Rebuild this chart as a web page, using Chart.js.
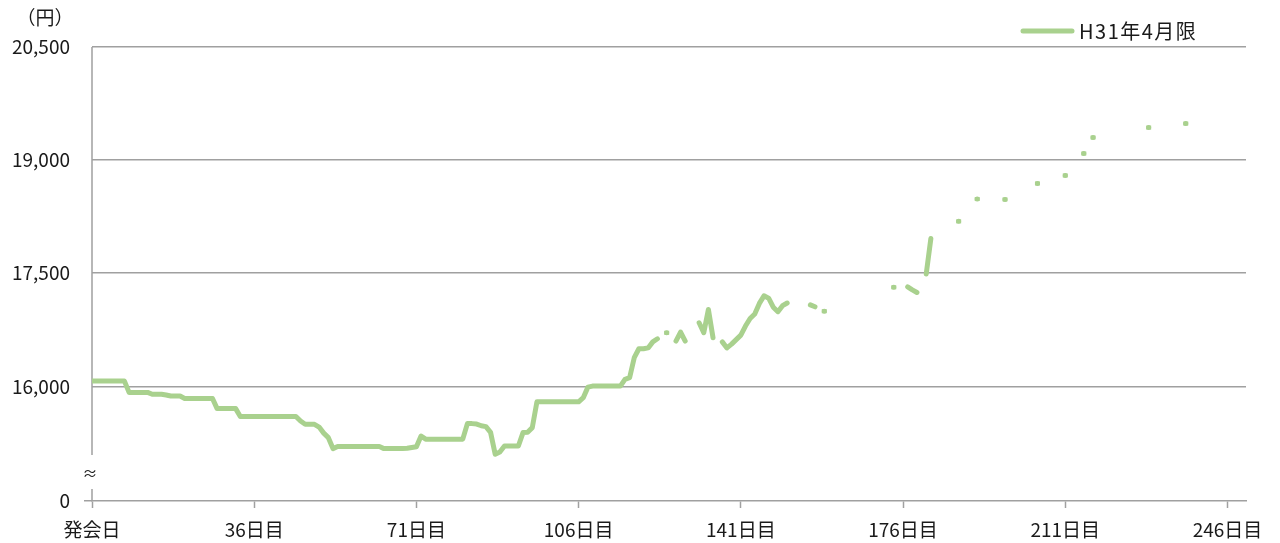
<!DOCTYPE html>
<html lang="ja">
<head>
<meta charset="utf-8">
<title>H31年4月限</title>
<script src="https://cdn.jsdelivr.net/npm/chart.js@4.4.0/dist/chart.umd.min.js"></script>
<style>
	html, body { margin: 0; padding: 0; background: #fff; }
	#wrap { width: 1280px; height: 543px; }
</style>
</head>
<body>
<div id="wrap"><canvas id="myChart" width="1280" height="543"></canvas></div>
<script>
// 系列名・単位
const seriesName = 'H31年4月限';
const unitLabel = '（円）';

// 日ごとの価格（円）、値のない日は null
const prices = [
	16070, 16070, 16070, 16070, 16070, 16070, 16070, 16070, 15920, 15920,
	15920, 15920, 15920, 15895, 15895, 15895, 15885, 15872, 15872, 15872,
	15840, 15840, 15840, 15840, 15840, 15840, 15840, 15705, 15705, 15705,
	15705, 15705, 15600, 15600, 15600, 15600, 15600, 15600, 15600, 15600,
	15600, 15600, 15600, 15600, 15600, 15540, 15497, 15497, 15497, 15460,
	15380, 15320, 15175, 15202, 15202, 15202, 15202, 15202, 15202, 15202,
	15202, 15202, 15202, 15175, 15175, 15175, 15175, 15175, 15180, 15190,
	15200, 15342, 15300, 15300, 15300, 15300, 15300, 15300, 15300, 15300,
	15300, 15506, 15506, 15500, 15478, 15466, 15390, 15100, 15130, 15210,
	15210, 15210, 15210, 15387, 15392, 15453, 15795, 15795, 15795, 15795,
	15795, 15795, 15795, 15795, 15795, 15795, 15850, 15990, 16004, 16004,
	16004, 16004, 16004, 16004, 16004, 16093, 16115, 16380, 16499, 16499,
	16510, 16590, 16631, null, 16711, null, 16600, 16720, 16600, null,
	null, 16843, 16711, 17019, 16645, null, 16590, 16510, 16560, 16620,
	16680, 16800, 16900, 16960, 17100, 17200, 17170, 17050, 16990, 17070,
	17105, null, null, null, null, 17080, 17055, null, 16997, null,
	null, null, null, null, null, null, null, null, null, null,
	null, null, null, 17314, null, null, 17320, 17280, 17245, null,
	17490, 17960, null, null, null, null, null, 18188, null, null,
	null, 18484, null, null, null, null, null, 18479, null, null,
	null, null, null, null, 18691, null, null, null, null, null,
	18797, null, null, null, 19088, null, 19300, null, null, null,
	null, null, null, null, null, null, null, null, 19432, null,
	null, null, null, null, null, null, 19485, null, null, null,
	null, null, null, null, null, null, null, null, null, null
];
const days = prices.map((v, i) => i + 1);

// 目盛り
const xTicks = [1, 36, 71, 106, 141, 176, 211, 246];
const yTicks = [14480, 16000, 17500, 19000, 20500];
const yZero = 14480; // 「0」と表示する位置（省略あり）

const green = '#a9d18e';
const gray = '#a0a0a0';
const textColor = '#1a1a1a';
const fontFamily = '"Noto Sans CJK JP", "Noto Sans", sans-serif';

Chart.defaults.font.family = fontFamily;
Chart.defaults.font.size = 19;
Chart.defaults.color = textColor;

// 単独の点だけ短い線で描く
function isolated(ctx) {
	const i = ctx.dataIndex;
	if (prices[i] == null) return false;
	const prev = i > 0 ? prices[i - 1] : null;
	const next = i < prices.length - 1 ? prices[i + 1] : null;
	return prev == null && next == null;
}

const decorations = {
	id: 'decorations',
	beforeDatasetsDraw(chart) {
		const ctx = chart.ctx;
		const area = chart.chartArea;
		const y = chart.scales.y;
		const breakTop = y.getPixelForValue(15090);
		const breakBottom = y.getPixelForValue(14640);
		ctx.save();
		ctx.strokeStyle = gray;
		ctx.lineWidth = 1.5;
		ctx.beginPath();
		ctx.moveTo(area.left, area.top);
		ctx.lineTo(area.left, breakTop);
		ctx.moveTo(area.left, breakBottom);
		ctx.lineTo(area.left, area.bottom);
		ctx.stroke();
		ctx.fillStyle = textColor;
		ctx.font = '15px ' + fontFamily;
		ctx.textAlign = 'center';
		ctx.textBaseline = 'middle';
		ctx.fillText('≈', area.left - 2, (breakTop + breakBottom) / 2 + 1);
		ctx.restore();
	},
	afterDraw(chart) {
		const ctx = chart.ctx;
		ctx.save();
		ctx.fillStyle = textColor;
		ctx.font = '19px ' + fontFamily;
		ctx.textBaseline = 'middle';
		ctx.textAlign = 'center';
		ctx.fillText(unitLabel, 45, 18);

		// 凡例
		ctx.strokeStyle = green;
		ctx.lineWidth = 5;
		ctx.lineCap = 'round';
		ctx.beginPath();
		ctx.moveTo(1023, 31);
		ctx.lineTo(1072, 31);
		ctx.stroke();
		ctx.textAlign = 'left';
		ctx.font = '20px ' + fontFamily;
		ctx.letterSpacing = '1.5px';
		ctx.fillText(seriesName, 1079, 31);
		ctx.restore();
	}
};

new Chart(document.getElementById('myChart'), {
	type: 'line',
	data: {
		datasets: [{
			label: seriesName,
			data: prices.map((v, i) => ({ x: days[i], y: v })),
			borderColor: green,
			backgroundColor: green,
			borderWidth: 5,
			borderCapStyle: 'round',
			borderJoinStyle: 'round',
			spanGaps: false,
			tension: 0,
			pointStyle: 'line',
			pointRadius: ctx => isolated(ctx) ? 2.5 : 0,
			pointBorderWidth: 4,
			pointBorderColor: green,
			pointHoverRadius: 0
		}]
	},
	options: {
		responsive: false,
		animation: false,
		devicePixelRatio: 1,
		events: [],
		layout: { padding: { left: 0, right: 34, top: 47, bottom: 0 } },
		plugins: {
			legend: { display: false },
			tooltip: { enabled: false }
		},
		scales: {
			x: {
				type: 'linear',
				min: 1,
				max: 250,
				afterBuildTicks: scale => { scale.ticks = xTicks.map(v => ({ value: v })); },
				afterFit: scale => { scale.height = 42; },
				ticks: {
					autoSkip: false,
					maxRotation: 0,
					padding: 10,
					callback: v => v === 1 ? '発会日' : v + '日目'
				},
				grid: {
					drawOnChartArea: false,
					drawTicks: true,
					tickLength: 7,
					tickColor: gray,
					tickWidth: 1.5
				},
				border: { display: true, color: gray, width: 1.5 }
			},
			y: {
				min: yZero,
				max: 20500,
				afterBuildTicks: scale => { scale.ticks = yTicks.map(v => ({ value: v })); },
				afterFit: scale => { scale.width = 92; },
				ticks: {
					padding: 14,
					callback: v => v === yZero ? '0' : v.toLocaleString('en-US')
				},
				grid: {
					color: ctx => ctx.tick && ctx.tick.value === yZero ? 'rgba(0,0,0,0)' : gray,
					lineWidth: 1.5,
					drawTicks: true,
					tickLength: 8,
					tickColor: ctx => ctx.tick && ctx.tick.value === yZero ? gray : 'rgba(0,0,0,0)'
				},
				border: { display: false }
			}
		}
	},
	plugins: [decorations]
});
</script>
</body>
</html>
